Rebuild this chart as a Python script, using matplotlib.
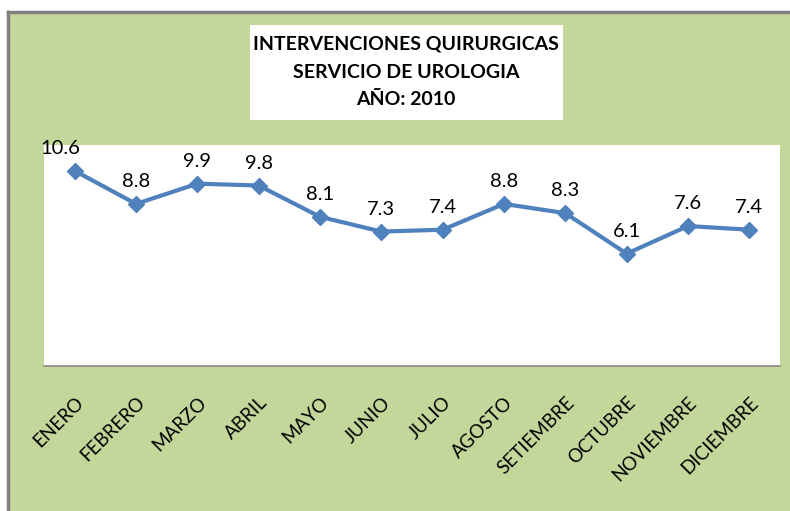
import matplotlib.pyplot as plt
from matplotlib.patches import Rectangle
from matplotlib.lines import Line2D

meses = ['ENERO', 'FEBRERO', 'MARZO', 'ABRIL', 'MAYO', 'JUNIO', 'JULIO',
         'AGOSTO', 'SETIEMBRE', 'OCTUBRE', 'NOVIEMBRE', 'DICIEMBRE']
valores = [10.6, 8.8, 9.9, 9.8, 8.1, 7.3, 7.4, 8.8, 8.3, 6.1, 7.6, 7.4]

plt.rcParams['font.family'] = ['Lato', 'DejaVu Sans']

verde = '#c4d79b'
azul = '#4f81bd'

fig = plt.figure(figsize=(7.9, 5.11), dpi=100)
fig.patch.set_facecolor('white')

# chart area background with gray border on top/left
fig.patches.append(Rectangle((8 / 790, 0), 1, 1 - 13 / 511, transform=fig.transFigure,
                             facecolor=verde, edgecolor='none', zorder=-2))
fig.add_artist(Line2D([8 / 790, 1], [1 - 12 / 511, 1 - 12 / 511], transform=fig.transFigure,
                      color='#808080', lw=2.5, zorder=-1))
fig.add_artist(Line2D([8 / 790, 8 / 790], [0, 1 - 12 / 511], transform=fig.transFigure,
                      color='#808080', lw=2.5, zorder=-1))
# title box
fig.patches.append(Rectangle((250 / 790, 1 - 120 / 511), 313 / 790, 95 / 511,
                             transform=fig.transFigure, facecolor='white',
                             edgecolor='none', zorder=-1))

ax = fig.add_axes([44 / 790, 1 - 366 / 511, 736 / 790, 221 / 511])
ax.set_facecolor('white')
x = list(range(len(meses)))
ax.plot(x, valores, color=azul, lw=3, marker='D', markersize=8, zorder=3)

ax.set_xlim(-0.5, len(meses) - 0.5)
ax.set_ylim(0, 12)
ax.set_yticks([])
ax.set_xticks(x)
ax.set_xticklabels(meses, rotation=45, ha='right', rotation_mode='anchor', fontsize=13.5)
ax.tick_params(axis='x', length=0, pad=20)
for s in ['top', 'left', 'right']:
    ax.spines[s].set_visible(False)
ax.spines['bottom'].set_color('#868686')
ax.spines['bottom'].set_linewidth(1.2)

for i, v in enumerate(valores):
    dx = -10 if i == 0 else 0
    ax.annotate(f'{v}', (i, v), xytext=(dx, 10), textcoords='offset points',
                ha='center', va='bottom', fontsize=14.5, annotation_clip=False)

fig.text(406 / 790, 1 - 72 / 511,
         'INTERVENCIONES QUIRURGICAS\nSERVICIO DE UROLOGIA\nAÑO: 2010',
         ha='center', va='center', fontsize=14, fontweight='bold', linespacing=1.75)

fig.savefig('out.png', dpi=100, facecolor=fig.get_facecolor())
